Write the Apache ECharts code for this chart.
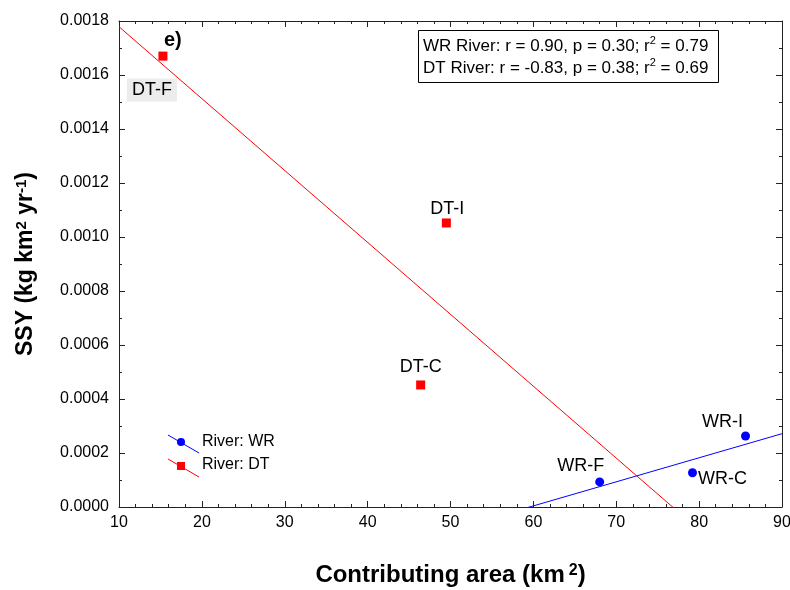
<!DOCTYPE html>
<html>
<head>
<meta charset="utf-8">
<script src="https://cdn.jsdelivr.net/npm/echarts@6/dist/echarts.min.js"></script>
<style>
  html, body { margin: 0; padding: 0; background: #fff; }
  #main { width: 790px; height: 590px; }
</style>
</head>
<body>
<div id="main"></div>
<script>
// 数据 WR 河
var wrNames = ['WR-F', 'WR-C', 'WR-I'];
var wrArea = [68.0, 79.2, 85.6];
var wrSSY = [0.000093, 0.000127, 0.000263];

// 数据 DT 河
var dtNames = ['DT-F', 'DT-C', 'DT-I'];
var dtArea = [15.3, 46.4, 49.5];
var dtSSY = [0.00167, 0.000452, 0.001052];

// 相关统计文本
var statLines = [
  'WR River: r = 0.90, p = 0.30; r{sup|2} = 0.79',
  'DT River: r = -0.83, p = 0.38; r{sup|2} = 0.69'
];

var xMin = 10, xMax = 90;

(function () {
  var myChart = echarts.init(document.getElementById('main'));
  var font = 'Arial, "Liberation Sans", Helvetica, sans-serif';

  // 最小二乘拟合
  function fit(xs, ys) {
    var n = xs.length, mx = 0, my = 0, sxy = 0, sxx = 0;
    for (var i = 0; i < n; i++) { mx += xs[i] / n; my += ys[i] / n; }
    for (var j = 0; j < n; j++) {
      sxy += (xs[j] - mx) * (ys[j] - my);
      sxx += (xs[j] - mx) * (xs[j] - mx);
    }
    var b = sxy / sxx;
    return [[xMin, my + b * (xMin - mx)], [xMax, my + b * (xMax - mx)]];
  }

  // 标签偏移（相对点中心）
  var labelOffset = {
    'WR-F': [-19, -16], 'WR-C': [30, 6], 'WR-I': [-23, -14],
    'DT-F': [-11, 34], 'DT-C': [0, -18], 'DT-I': [1, -14]
  };

  function points(names, xs, ys) {
    var arr = [];
    for (var i = 0; i < names.length; i++) {
      var item = {
        name: names[i],
        value: [xs[i], ys[i]],
        label: { offset: labelOffset[names[i]] }
      };
      if (names[i] === 'DT-F') {
        item.label.backgroundColor = '#ececec';
        item.label.padding = [3, 5, 2, 5];
      }
      arr.push(item);
    }
    return arr;
  }

  var pointLabel = {
    show: true,
    position: 'inside',
    formatter: '{b}',
    color: '#000',
    fontSize: 18,
    fontFamily: font
  };

  var tickStyle = { color: '#222', width: 1 };

  function xAxisCfg(pos, showLabel) {
    return {
      type: 'value', position: pos, min: xMin, max: xMax, interval: 10,
      name: showLabel ? 'Contributing area (km{sup|2})' : '',
      nameLocation: 'middle', nameGap: 56,
      nameTextStyle: {
        fontSize: 24, fontWeight: 'bold', color: '#000', fontFamily: font,
        rich: { sup: { fontSize: 16, fontWeight: 'bold', color: '#000', verticalAlign: 'top', padding: [0, 0, 0, 4], fontFamily: font } }
      },
      axisLine: { show: true, onZero: false, lineStyle: tickStyle },
      axisTick: { show: true, inside: true, length: 6, lineStyle: tickStyle },
      minorTick: { show: true, splitNumber: 5, length: 3, lineStyle: tickStyle },
      axisLabel: { show: showLabel, fontSize: 16, color: '#000', margin: 8, fontFamily: font },
      splitLine: { show: false }
    };
  }

  function yAxisCfg(pos, showLabel) {
    return {
      type: 'value', position: pos, min: 0, max: 0.0018, interval: 0.0002,
      name: showLabel ? 'SSY (kg km{sup|2} yr{sup|-1})' : '',
      nameLocation: 'middle', nameGap: 82, nameRotate: 90,
      nameTextStyle: {
        fontSize: 23, fontWeight: 'bold', color: '#000', fontFamily: font,
        rich: { sup: { fontSize: 15, fontWeight: 'bold', color: '#000', verticalAlign: 'top', fontFamily: font } }
      },
      axisLine: { show: true, onZero: false, lineStyle: tickStyle },
      axisTick: { show: true, inside: true, length: 6, lineStyle: tickStyle },
      minorTick: { show: true, splitNumber: 2, length: 3, lineStyle: tickStyle },
      axisLabel: {
        show: showLabel, fontSize: 16, color: '#000', margin: 10, fontFamily: font,
        formatter: function (v) { return v.toFixed(4); }
      },
      splitLine: { show: false }
    };
  }

  var option = {
    animation: false,
    backgroundColor: '#fff',
    grid: { left: 119, right: 8, top: 21, bottom: 83, outerBoundsMode: 'none' },
    xAxis: [xAxisCfg('bottom', true), xAxisCfg('top', false)],
    yAxis: [yAxisCfg('left', true), yAxisCfg('right', false)],
    series: [
      {
        // WR 回归线
        type: 'line', data: fit(wrArea, wrSSY), symbol: 'none', clip: true,
        lineStyle: { color: '#0000ff', width: 1 }, z: 2
      },
      {
        // DT 回归线
        type: 'line', data: fit(dtArea, dtSSY), symbol: 'none', clip: true,
        lineStyle: { color: '#ff0000', width: 1 }, z: 2
      },
      {
        name: 'River: WR', type: 'scatter', symbol: 'circle', symbolSize: 9,
        itemStyle: { color: '#0000ff', opacity: 1 }, label: pointLabel,
        data: points(wrNames, wrArea, wrSSY), z: 3
      },
      {
        name: 'River: DT', type: 'scatter', symbol: 'rect', symbolSize: 9,
        itemStyle: { color: '#ff0000', opacity: 1 }, label: pointLabel,
        data: points(dtNames, dtArea, dtSSY), z: 3
      }
    ],
    graphic: [
      // 统计文本框
      {
        type: 'rect', left: 418, top: 30,
        shape: { width: 300, height: 52 },
        style: { fill: '#fff', stroke: '#000', lineWidth: 1 }, z: 10
      },
      {
        type: 'text', left: 423, top: 35, z: 11,
        style: {
          text: statLines.join('\n'),
          font: '17px ' + font, fill: '#000', lineHeight: 22,
          rich: { sup: { fontSize: 11, verticalAlign: 'top', fill: '#000', lineHeight: 22 } }
        }
      },
      // 面板编号
      {
        type: 'text', left: 164, top: 30, z: 11,
        style: { text: 'e)', font: 'bold 20px ' + font, fill: '#000' }
      },
      // 图例
      {
        type: 'line', shape: { x1: 168, y1: 435, x2: 199, y2: 453 },
        style: { stroke: '#0000ff', lineWidth: 1 }, z: 10
      },
      {
        type: 'circle', shape: { cx: 181, cy: 442, r: 4 },
        style: { fill: '#0000ff' }, z: 11
      },
      {
        type: 'line', shape: { x1: 168, y1: 459, x2: 199, y2: 477 },
        style: { stroke: '#ff0000', lineWidth: 1 }, z: 10
      },
      {
        type: 'rect', shape: { x: 177, y: 462, width: 8, height: 8 },
        style: { fill: '#ff0000' }, z: 11
      },
      {
        type: 'text', left: 202, top: 434, z: 11,
        style: { text: 'River: WR', font: '16px ' + font, fill: '#000' }
      },
      {
        type: 'text', left: 202, top: 457, z: 11,
        style: { text: 'River: DT', font: '16px ' + font, fill: '#000' }
      }
    ]
  };

  myChart.setOption(option);

  window.addEventListener('resize', function () {
    myChart.resize();
  });
})();
</script>
</body>
</html>
